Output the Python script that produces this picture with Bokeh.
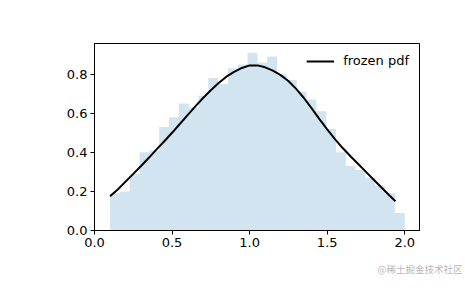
import numpy as np
from bokeh.plotting import figure
from bokeh.models import Range1d, FixedTicker, PrintfTickFormatter, Title, Legend, LegendItem
from bokeh.embed import file_html
from bokeh.resources import INLINE

# Histogram (density): 30 bins from 0.1 to 2.0
bin_start = 0.1
bin_end = 2.0
hist_heights = [0.19, 0.20, 0.29, 0.40, 0.41, 0.53, 0.58, 0.65, 0.63, 0.69,
                0.78, 0.75, 0.83, 0.85, 0.91, 0.86, 0.89, 0.80, 0.77, 0.71,
                0.67, 0.61, 0.52, 0.40, 0.33, 0.31, 0.27, 0.23, 0.19, 0.09]

# Frozen pdf curve
pdf_x = [0.10, 0.15, 0.20, 0.25, 0.30, 0.35, 0.40, 0.45, 0.50, 0.55,
         0.60, 0.65, 0.70, 0.75, 0.80, 0.85, 0.90, 0.95, 1.00, 1.05,
         1.10, 1.15, 1.20, 1.25, 1.30, 1.35, 1.40, 1.45, 1.50, 1.55,
         1.60, 1.65, 1.70, 1.75, 1.80, 1.85, 1.90, 1.94]
pdf_y = [0.175, 0.21, 0.25, 0.29, 0.33, 0.372, 0.415, 0.457, 0.50, 0.545,
         0.59, 0.635, 0.678, 0.718, 0.755, 0.787, 0.812, 0.832, 0.845, 0.845,
         0.835, 0.818, 0.795, 0.765, 0.725, 0.678, 0.625, 0.57, 0.518, 0.468,
         0.422, 0.38, 0.34, 0.30, 0.26, 0.22, 0.18, 0.15]

x_ticks = [0.0, 0.5, 1.0, 1.5, 2.0]
y_ticks = [0.0, 0.2, 0.4, 0.6, 0.8]

FONT = "DejaVu Sans"

p = figure(width=465, height=288, output_backend="svg", toolbar_location=None,
           x_range=Range1d(0.0, 2.095), y_range=Range1d(0, 0.957),
           min_border_left=94, min_border_right=46, min_border_top=43, min_border_bottom=58)
p.background_fill_color = "white"
p.border_fill_color = "white"
p.grid.visible = False
p.outline_line_color = "black"
p.outline_line_width = 1
p.outline_line_alpha = 1

edges = np.linspace(bin_start, bin_end, len(hist_heights) + 1)
p.quad(left=edges[:-1], right=edges[1:], bottom=0, top=hist_heights,
       fill_color="#1f77b4", fill_alpha=0.2, line_color=None)

r = p.line(pdf_x, pdf_y, line_color="black", line_width=2)

legend = Legend(items=[LegendItem(label="frozen pdf", renderers=[r])],
                location="top_right")
legend.border_line_color = None
legend.background_fill_alpha = 0
legend.label_text_font = FONT
legend.label_text_font_size = "13px"
legend.label_text_color = "black"
legend.glyph_width = 28
legend.glyph_height = 12
legend.label_height = 12
legend.label_standoff = 9
legend.margin = 10
legend.padding = 8
p.add_layout(legend)

for ax in (p.xaxis[0], p.yaxis[0]):
    ax.axis_line_color = "black"
    ax.major_tick_line_color = "black"
    ax.minor_tick_line_color = None
    ax.major_tick_in = 0
    ax.major_tick_out = 4
    ax.major_label_text_font = FONT
    ax.major_label_text_font_size = "13px"
    ax.major_label_text_color = "black"
    ax.major_label_standoff = 3
    ax.formatter = PrintfTickFormatter(format="%.1f")

p.xaxis[0].ticker = FixedTicker(ticks=x_ticks)
p.yaxis[0].ticker = FixedTicker(ticks=y_ticks)

wm = Title(text="@稀土掘金技术社区", align="right", offset=-43,
           text_font="Noto Sans CJK SC", text_font_size="9.5px",
           text_font_style="normal", text_color="#b8b8b8", standoff=21)
p.add_layout(wm, "below")

open("out.html", "w").write(file_html(p, INLINE))
